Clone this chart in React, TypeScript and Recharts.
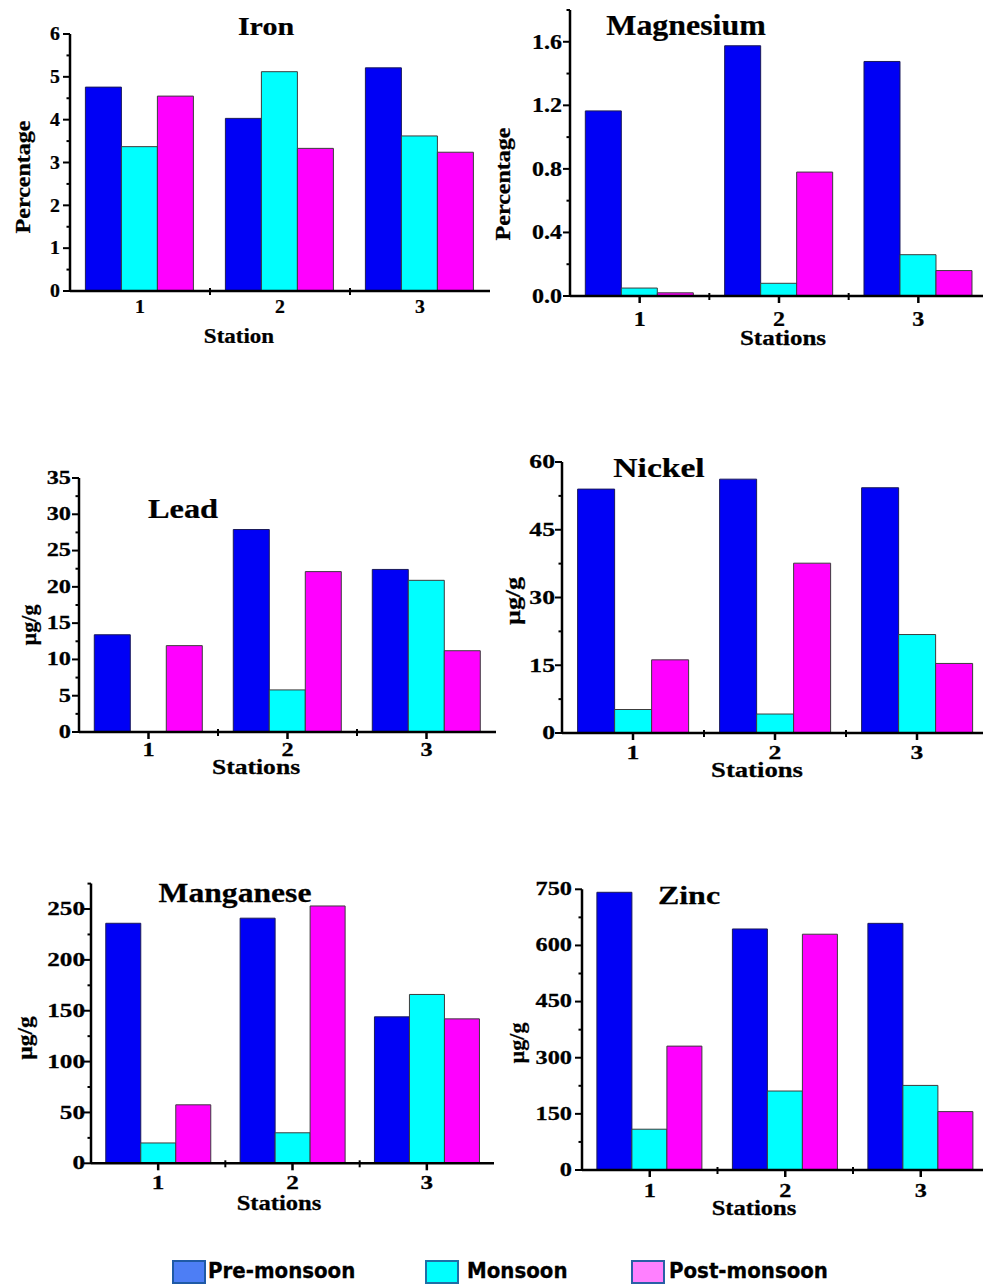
import React from 'react';
import { BarChart, Bar, XAxis, YAxis, Label } from 'recharts';

// ---------- data ----------
const stations = ['1', '2', '3'];
const seriesNames = ['Pre-monsoon', 'Monsoon', 'Post-monsoon'];

const ironPre = [4.76, 4.03, 5.21];
const ironMon = [3.37, 5.12, 3.62];
const ironPost = [4.55, 3.33, 3.24];

const mgPre = [1.165, 1.575, 1.476];
const mgMon = [0.05, 0.08, 0.26];
const mgPost = [0.02, 0.78, 0.16];

const leadPre = [13.4, 27.9, 22.4];
const leadMon = [0, 5.8, 20.9];
const leadPost = [11.9, 22.1, 11.2];

const niPre = [54.0, 56.2, 54.3];
const niMon = [5.2, 4.2, 21.8];
const niPost = [16.2, 37.6, 15.4];

const mnPre = [236, 241, 144];
const mnMon = [20, 30, 166];
const mnPost = [57.5, 253, 142];

const znPre = [742, 644, 659];
const znMon = [109, 211, 226];
const znPost = [331, 630, 156];

const ironTicks = [0, 1, 2, 3, 4, 5, 6];
const mgTicks = [0, 0.4, 0.8, 1.2, 1.6];
const leadTicks = [0, 5, 10, 15, 20, 25, 30, 35];
const niTicks = [0, 15, 30, 45, 60];
const mnTicks = [0, 50, 100, 150, 200, 250];
const znTicks = [0, 150, 300, 450, 600, 750];

// ---------- styles ----------
const SERIF = "'Liberation Serif','Times New Roman',Times,serif";
const BAR_COLORS = ['#0000f5', '#00ffff', '#ff00ff'];
const BAR_STROKES = ['#1a1a5a', '#3c3c3c', '#3c3c3c'];
const LEGEND_FILLS = ['#4d7ef5', '#00ffff', '#ff80ff'];
const LEGEND_STROKES = ['#1f5aa6', '#1f6fa6', '#2a5fa6'];

function SText({ x, y, size, sx, angle = 0, anchor = 'middle', children }: any) {
  return (
    <text
      transform={`translate(${x},${y}) rotate(${angle}) scale(${sx},1)`}
      textAnchor={anchor}
      dominantBaseline="central"
      fontFamily={SERIF}
      fontWeight="bold"
      fontSize={size}
      fill="#000"
      stroke="#000"
      strokeWidth={0.25}
    >
      {children}
    </text>
  );
}

type Cfg = {
  title: string;
  yLabel: string;
  xLabel: string;
  pre: number[];
  mon: number[];
  post: number[];
  ticks: number[];
  max: number;
  decimals: number;
  box: { l: number; t: number; r: number; b: number };
  plot: { l: number; t: number; r: number; b: number };
  titleT: { x: number; y: number; size: number; sx: number };
  yLabelT: { x: number; y: number; size: number; sx: number };
  xLabelT: { x: number; y: number; size: number; sx: number };
  xTick: { off: number; size: number; sx: number };
  yTick: { gap: number; size: number; sx: number };
  centerTick: boolean;
};

const panels: Cfg[] = [
  {
    title: 'Iron', yLabel: 'Percentage', xLabel: 'Station',
    pre: ironPre, mon: ironMon, post: ironPost, ticks: ironTicks, max: 6, decimals: 0,
    box: { l: 0, t: 0, r: 498, b: 360 }, plot: { l: 70, t: 34, r: 490, b: 291 },
    titleT: { x: 266, y: 26.5, size: 25, sx: 1.2 },
    yLabelT: { x: 23, y: 177, size: 20, sx: 1.2 },
    xLabelT: { x: 239, y: 337, size: 20, sx: 1.15 },
    xTick: { off: 16, size: 18, sx: 1.1 }, yTick: { gap: 10, size: 18, sx: 1.1 },
    centerTick: false,
  },
  {
    title: 'Magnesium', yLabel: 'Percentage', xLabel: 'Stations',
    pre: mgPre, mon: mgMon, post: mgPost, ticks: mgTicks, max: 1.8, decimals: 1,
    box: { l: 486, t: 0, r: 995, b: 360 }, plot: { l: 570, t: 10, r: 988, b: 296 },
    titleT: { x: 686, y: 25, size: 29, sx: 1.1 },
    yLabelT: { x: 503, y: 184, size: 20, sx: 1.2 },
    xLabelT: { x: 783, y: 338, size: 20, sx: 1.25 },
    xTick: { off: 23, size: 20, sx: 1.2 }, yTick: { gap: 8, size: 20, sx: 1.2 },
    centerTick: true,
  },
  {
    title: 'Lead', yLabel: 'µg/g', xLabel: 'Stations',
    pre: leadPre, mon: leadMon, post: leadPost, ticks: leadTicks, max: 35, decimals: 0,
    box: { l: 0, t: 440, r: 498, b: 790 }, plot: { l: 79, t: 478, r: 496, b: 732 },
    titleT: { x: 183, y: 508, size: 27, sx: 1.2 },
    yLabelT: { x: 29, y: 625, size: 20, sx: 1.1 },
    xLabelT: { x: 256, y: 767, size: 20, sx: 1.28 },
    xTick: { off: 18, size: 18, sx: 1.35 }, yTick: { gap: 8, size: 18, sx: 1.35 },
    centerTick: true,
  },
  {
    title: 'Nickel', yLabel: 'µg/g', xLabel: 'Stations',
    pre: niPre, mon: niMon, post: niPost, ticks: niTicks, max: 60, decimals: 0,
    box: { l: 486, t: 440, r: 995, b: 790 }, plot: { l: 562, t: 462, r: 988, b: 733 },
    titleT: { x: 659, y: 467.5, size: 28, sx: 1.2 },
    yLabelT: { x: 513, y: 601, size: 20, sx: 1.3 },
    xLabelT: { x: 757, y: 770, size: 21, sx: 1.27 },
    xTick: { off: 20, size: 19, sx: 1.35 }, yTick: { gap: 7, size: 19, sx: 1.35 },
    centerTick: true,
  },
  {
    title: 'Manganese', yLabel: 'µg/g', xLabel: 'Stations',
    pre: mnPre, mon: mnMon, post: mnPost, ticks: mnTicks, max: 275, decimals: 0,
    box: { l: 0, t: 860, r: 498, b: 1225 }, plot: { l: 91, t: 883.6, r: 494, b: 1163.3 },
    titleT: { x: 235, y: 892.5, size: 28, sx: 1.13 },
    yLabelT: { x: 26, y: 1038, size: 20, sx: 1.17 },
    xLabelT: { x: 279, y: 1203, size: 20, sx: 1.23 },
    xTick: { off: 20, size: 18, sx: 1.4 }, yTick: { gap: 6, size: 18, sx: 1.4 },
    centerTick: true,
  },
  {
    title: 'Zinc', yLabel: 'µg/g', xLabel: 'Stations',
    pre: znPre, mon: znMon, post: znPost, ticks: znTicks, max: 750, decimals: 0,
    box: { l: 486, t: 860, r: 995, b: 1225 }, plot: { l: 582, t: 889.3, r: 988.5, b: 1170 },
    titleT: { x: 689, y: 895.5, size: 26, sx: 1.23 },
    yLabelT: { x: 517, y: 1043, size: 20, sx: 1.1 },
    xLabelT: { x: 754, y: 1208, size: 20, sx: 1.23 },
    xTick: { off: 21, size: 18, sx: 1.35 }, yTick: { gap: 10, size: 18, sx: 1.35 },
    centerTick: true,
  },
];

function Panel({ cfg }: { cfg: Cfg }) {
  const { box, plot } = cfg;
  const W = box.r - box.l;
  const H = box.b - box.t;
  const ox = box.l;
  const oy = box.t;
  const data = stations.map((s, i) => ({ station: s, pre: cfg.pre[i], mon: cfg.mon[i], post: cfg.post[i] }));
  const band = (plot.r - plot.l) / stations.length;
  const step = cfg.ticks[1] - cfg.ticks[0];
  const allTicks: number[] = [...cfg.ticks];
  cfg.ticks.forEach((t) => {
    const m = +(t + step / 2).toFixed(6);
    if (m <= cfg.max + 1e-9) allTicks.push(m);
  });
  allTicks.sort((a, b) => a - b);
  const isMajor = (v: number) => cfg.ticks.some((t) => Math.abs(t - v) < 1e-9);

  const YTick = (p: any) => {
    const v = p.payload.value;
    const major = isMajor(v);
    return (
      <g>
        <line x1={p.x} x2={p.x - (major ? 7 : 3.5)} y1={p.y} y2={p.y} stroke="#000" strokeWidth={2} />
        {major && (
          <SText x={p.x - cfg.yTick.gap} y={p.y} size={cfg.yTick.size} sx={cfg.yTick.sx} anchor="end">
            {Number(v).toFixed(cfg.decimals)}
          </SText>
        )}
      </g>
    );
  };

  const XTick = (p: any) => (
    <g>
      {cfg.centerTick && <line x1={p.x} x2={p.x} y1={p.y} y2={p.y + 7} stroke="#000" strokeWidth={2.5} />}
      {p.index < stations.length - 1 && (
        <line x1={p.x + band / 2} x2={p.x + band / 2} y1={p.y - 3} y2={p.y + 4} stroke="#000" strokeWidth={2} />
      )}
      <SText x={p.x} y={p.y + cfg.xTick.off} size={cfg.xTick.size} sx={cfg.xTick.sx}>
        {p.payload.value}
      </SText>
    </g>
  );

  const texts = () => (
    <g>
      <SText x={cfg.titleT.x - ox} y={cfg.titleT.y - oy} size={cfg.titleT.size} sx={cfg.titleT.sx}>
        {cfg.title}
      </SText>
      <SText x={cfg.yLabelT.x - ox} y={cfg.yLabelT.y - oy} size={cfg.yLabelT.size} sx={cfg.yLabelT.sx} angle={-90}>
        {cfg.yLabel}
      </SText>
      <SText x={cfg.xLabelT.x - ox} y={cfg.xLabelT.y - oy} size={cfg.xLabelT.size} sx={cfg.xLabelT.sx}>
        {cfg.xLabel}
      </SText>
    </g>
  );

  const keys = ['pre', 'mon', 'post'];
  return (
    <div style={{ position: 'absolute', left: box.l, top: box.t, width: W, height: H }}>
      <BarChart
        width={W}
        height={H}
        data={data}
        margin={{ top: plot.t - box.t, right: box.r - plot.r, left: 0, bottom: 0 }}
        barCategoryGap="11%"
        barGap={0}
      >
        <XAxis
          dataKey="station"
          height={box.b - plot.b}
          axisLine={{ stroke: '#000', strokeWidth: 2.5 }}
          tickLine={false}
          tickSize={0}
          tickMargin={0}
          interval={0}
          tick={XTick}
        >
          <Label content={texts} />
        </XAxis>
        <YAxis
          type="number"
          domain={[0, cfg.max]}
          ticks={allTicks}
          width={plot.l - box.l}
          axisLine={{ stroke: '#000', strokeWidth: 2.5 }}
          tickLine={false}
          tickSize={0}
          tickMargin={0}
          interval={0}
          tick={YTick}
          allowDataOverflow
        />
        {keys.map((k, i) => (
          <Bar
            key={k}
            dataKey={k}
            name={seriesNames[i]}
            fill={BAR_COLORS[i]}
            stroke={BAR_STROKES[i]}
            strokeWidth={1}
            isAnimationActive={false}
          />
        ))}
      </BarChart>
    </div>
  );
}

function Legend() {
  const squareX = [173, 426, 632];
  const textX = [208, 467, 669];
  return (
    <svg width={983} height={34} style={{ position: 'absolute', left: 0, top: 1250 }}>
      {seriesNames.map((n, i) => (
        <g key={n}>
          <rect x={squareX[i]} y={11} width={32} height={22} fill={LEGEND_FILLS[i]} stroke={LEGEND_STROKES[i]} strokeWidth={2} />
          <text
            x={textX[i]}
            y={28}
            fontFamily="'DejaVu Sans Condensed','DejaVu Sans',sans-serif"
            fontStretch="condensed"
            fontWeight="bold"
            fontSize={22}
            fill="#000"
            stroke="#000"
            strokeWidth={0.3}
          >
            {n}
          </text>
        </g>
      ))}
    </svg>
  );
}

export default function App() {
  return (
    <div style={{ position: 'absolute', left: 0, top: 0, width: 983, height: 1284, overflow: 'hidden', background: '#fff' }}>
      {panels.map((p) => (
        <Panel key={p.title} cfg={p} />
      ))}
      <Legend />
    </div>
  );
}
